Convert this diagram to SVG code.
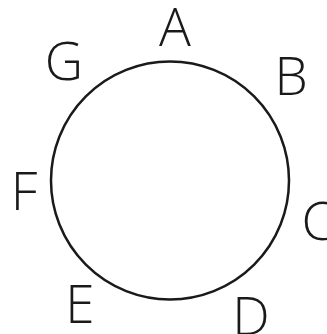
<svg xmlns="http://www.w3.org/2000/svg" width="327" height="334" viewBox="0 0 327 334">
<style>
.lbl{font-family:"Open Sans","Lato","Liberation Sans",sans-serif;font-weight:300;font-size:53px;fill:#1a1a1a;text-anchor:middle}
</style>
<rect width="327" height="334" fill="#fff"/>
<g id="ring">
<circle cx="170" cy="180.5" r="119" fill="none" stroke="#1a1a1a" stroke-width="2.5"/>
</g>
<g id="connectors"></g>
<g id="nodeA"><text class="lbl" x="175" y="46">A</text></g>
<g id="nodeB"><text class="lbl" x="291" y="95">B</text></g>
<g id="nodeC"><text class="lbl" x="318" y="240">C</text></g>
<g id="nodeD"><text class="lbl" x="251" y="335">D</text></g>
<g id="nodeE"><text class="lbl" x="80" y="323">E</text></g>
<g id="nodeF"><text class="lbl" x="24" y="210">F</text></g>
<g id="nodeG"><text class="lbl" x="64" y="80">G</text></g>
</svg>
